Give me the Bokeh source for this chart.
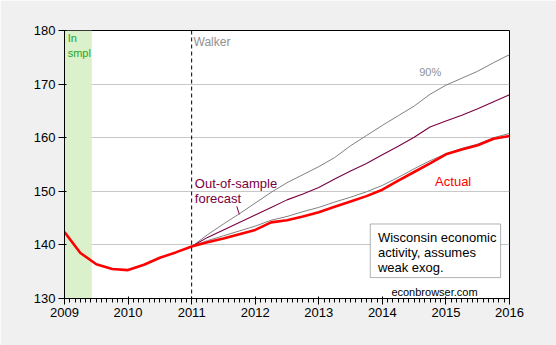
from bokeh.plotting import figure
from bokeh.models import FixedTicker, Span, BoxAnnotation, Label, Range1d
from bokeh.embed import file_html
from bokeh.resources import INLINE

# ---- data ----
actual_t = [2009.0, 2009.25, 2009.5, 2009.75, 2010.0, 2010.25, 2010.5, 2010.75,
            2011.0, 2011.25, 2011.5, 2011.75, 2012.0, 2012.25, 2012.5, 2012.75,
            2013.0, 2013.25, 2013.5, 2013.75, 2014.0, 2014.25, 2014.5, 2014.75,
            2015.0, 2015.25, 2015.5, 2015.75, 2016.0]
actual = [142.4, 138.5, 136.4, 135.5, 135.3, 136.3, 137.6, 138.6,
          139.7, 140.5, 141.2, 142.0, 142.8, 144.2, 144.6, 145.3,
          146.1, 147.1, 148.1, 149.1, 150.3, 152.0, 153.6, 155.2,
          156.9, 157.8, 158.6, 159.8, 160.3]

fc_t = [2011.0, 2011.25, 2011.5, 2011.75, 2012.0, 2012.25, 2012.5, 2012.75,
        2013.0, 2013.25, 2013.5, 2013.75, 2014.0, 2014.25, 2014.5, 2014.75,
        2015.0, 2015.25, 2015.5, 2015.75, 2016.0]
forecast = [139.7, 141.4, 142.8, 144.2, 145.6, 147.0, 148.4, 149.5,
            150.7, 152.3, 153.8, 155.2, 156.8, 158.4, 160.1, 162.0,
            163.1, 164.2, 165.4, 166.7, 168.0]
lower90 = [139.7, 140.8, 141.7, 142.6, 143.5, 144.6, 145.3, 146.2,
           147.0, 148.0, 148.9, 149.9, 151.1, 152.6, 154.2, 155.7,
           157.0, 158.0, 158.8, 160.0, 160.8]
upper90 = [139.7, 141.9, 143.9, 145.8, 147.8, 149.8, 151.6, 153.1,
           154.6, 156.3, 158.5, 160.4, 162.3, 164.1, 165.9, 168.1,
           169.8, 171.1, 172.4, 174.0, 175.5]

year_ticks = [2009, 2010, 2011, 2012, 2013, 2014, 2015, 2016]
y_ticks = [130, 140, 150, 160, 170, 180]
insample_end = 2009.43
walker_start = 2011.0

FONT = "Liberation Sans"

p = figure(width=556, height=345, output_backend="svg", toolbar_location=None,
           x_range=Range1d(2009, 2016), y_range=Range1d(130, 180),
           min_border_left=64, min_border_right=47, min_border_top=30, min_border_bottom=47)
p.border_fill_color = "#F0F0F0"
p.background_fill_color = "white"
p.outline_line_color = "black"

minor = [y + m / 12 for y in range(2009, 2016) for m in range(1, 12)]
p.xaxis[0].ticker = FixedTicker(ticks=year_ticks, minor_ticks=minor)
p.yaxis[0].ticker = FixedTicker(ticks=y_ticks)
for ax in (p.xaxis[0], p.yaxis[0]):
    ax.axis_line_color = "black"
    ax.major_tick_line_color = "black"
    ax.minor_tick_line_color = "black"
    ax.major_tick_out = 6
    ax.minor_tick_out = 4
    ax.major_label_text_font = FONT
    ax.major_label_text_font_size = "13px"
    ax.major_label_text_color = "black"
p.yaxis[0].minor_tick_line_color = None
p.xaxis[0].major_label_standoff = 3
p.yaxis[0].major_label_standoff = 3
p.xgrid.grid_line_color = None
p.ygrid.grid_line_color = "#C8C8C8"
p.ygrid.grid_line_width = 1

p.add_layout(BoxAnnotation(left=2009, right=insample_end, fill_color="#DAF1CB",
                           fill_alpha=1, line_color=None, level="underlay"))
p.add_layout(Span(location=walker_start, dimension="height", line_color="black",
                  line_dash="4 3", line_width=1))

p.line(fc_t, upper90, line_color="#808080", line_width=1)
p.line(fc_t, lower90, line_color="#808080", line_width=1)
p.line(fc_t, forecast, line_color="#7A0040", line_width=1.1)
p.line(actual_t, actual, line_color="#FF0000", line_width=2.6)

p.segment(x0=[2011.71], y0=[147.2], x1=[2011.75], y1=[145.7], line_color="#7A0040", line_width=1)

def lab(x, y, t, color, size="13px", align="left", baseline="top"):
    p.add_layout(Label(x=x, y=y, text=t, text_color=color, text_font=FONT,
                       text_font_size=size, text_align=align, text_baseline=baseline))

lab(2009.05, 179.8, "In", "#22A822", "11px")
lab(2009.05, 177.0, "smpl", "#22A822", "11px")
lab(2011.03, 179.2, "Walker", "#909090", "12px")
lab(2014.58, 173.4, "90%", "#909090", "11px")
lab(2011.05, 152.9, "Out-of-sample", "#7A0040")
lab(2011.05, 150.1, "forecast", "#7A0040")
lab(2014.83, 153.3, "Actual", "#FF0000")

p.add_layout(BoxAnnotation(left=2013.81, right=2015.86, bottom=133.9, top=143.9,
                           fill_color="white", fill_alpha=1, line_color="black", line_width=1))
lab(2013.93, 142.8, "Wisconsin economic", "black")
lab(2013.93, 140.0, "activity, assumes", "black")
lab(2013.93, 137.2, "weak exog.", "black")
lab(2014.82, 131.3, "econbrowser.com", "black", "11px", align="center", baseline="alphabetic")

open("out.html", "w").write(file_html(p, INLINE))
